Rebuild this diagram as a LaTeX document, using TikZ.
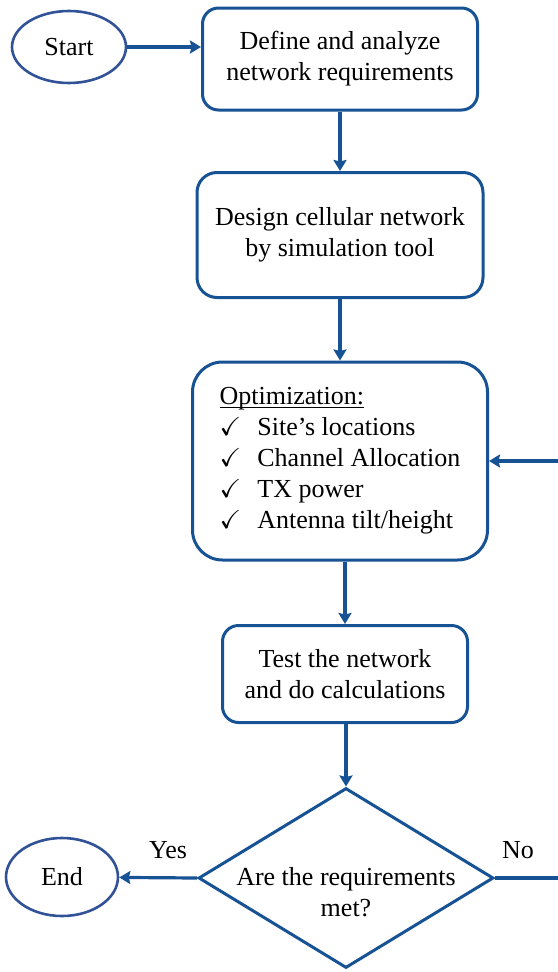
\documentclass[tikz,border=0pt]{standalone}
\usepackage{amssymb}
\usepackage{fontspec}
\setmainfont{Liberation Serif}
\usepackage{tikz}
\usetikzlibrary{positioning,shapes.geometric,arrows.meta,calc}
\definecolor{flowblue}{RGB}{22,82,148}
\definecolor{ovalblue}{RGB}{50,82,152}
\newcommand{\headline}[1]{\setbox0\hbox{#1}\rlap{\rule[-3.5pt]{\wd0}{1.3pt}}\box0}

\begin{document}
\begin{tikzpicture}[
    x=1pt, y=-1pt,
    >={Stealth[length=11pt,width=13pt,inset=1.5pt]},
    font=\fontsize{26}{31}\selectfont,
    box/.style={
        draw=flowblue,
        rounded corners=16pt,
        line width=3pt,
        align=center,
        fill=white
    },
    oval/.style={
        draw=ovalblue,
        ellipse,
        line width=2.6pt,
        inner sep=0pt
    },
    decision/.style={
        draw=flowblue,
        diamond,
        line width=3pt,
        align=center,
        inner xsep=-8pt,
        inner ysep=-20pt,
        aspect=1.64,
        minimum width=295pt,
        minimum height=180pt
    },
    arr/.style={->, draw=flowblue, line width=3.2pt}
]
\useasboundingbox (0,0) rectangle (557,972);

% start and first steps
\node[oval, minimum width=114pt, minimum height=72pt] (start) at (69,47) {Start};

\node[box, minimum width=275pt, minimum height=102pt] (define) at (340,59)
{Define and analyze\\network requirements};

\node[box, minimum width=286pt, minimum height=125pt, rounded corners=20pt] (design) at (340,235)
{Design cellular network\\by simulation tool};

\node[box, minimum width=295pt, minimum height=198pt, rounded corners=30pt, align=left] (optim) at (340,461)
{\headline{Optimization:}\\
$\checkmark$\hspace{16pt}Site’s locations\\
$\checkmark$\hspace{16pt}Channel Allocation\\
$\checkmark$\hspace{16pt}TX power\\
$\checkmark$\hspace{16pt}Antenna tilt/height};

\node[box, minimum width=245pt, minimum height=97pt] (test) at (345,674)
{Test the network\\and do calculations};

% decision and end
\node[decision] (check) at (346,878) {\rule{0pt}{46pt}Are the requirements\\met?};

\node[oval, minimum width=112pt, minimum height=78pt] (stop) at (62,877) {End};

\node (yes) at (168,850) {Yes};
\node (no) at (518,850) {No};

\draw[arr] (start) -- (define.west |- start);
\draw[arr] (define) -- (design);
\draw[arr] (design.south -| optim) -- (optim);
\draw[arr] (optim.south -| test) -- (test);
\draw[arr] (test.south -| check) -- (check.north);
\draw[arr] (check.west) -- (stop);
\draw[arr] (check.east) -- ++(90,0) |- (optim.east);

\end{tikzpicture}
\end{document}
